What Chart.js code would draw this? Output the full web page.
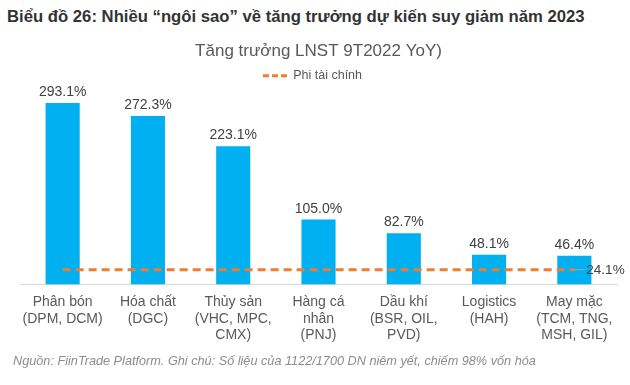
<!DOCTYPE html>
<html lang="vi">
<head>
<meta charset="UTF-8">
<title>Biểu đồ 26</title>
<script src="https://cdn.jsdelivr.net/npm/chart.js"></script>
<style>
  body {
    margin: 0;
    width: 630px;
    height: 385px;
    background: #ffffff;
    font-family: "Liberation Sans", Arial, sans-serif;
    position: relative;
    overflow: hidden;
  }
  .heading {
    position: absolute;
    left: 7px;
    top: 7px;
    font-size: 16.7px;
    font-weight: bold;
    color: #333333;
    white-space: nowrap;
  }
  .note {
    position: absolute;
    left: 13px;
    top: 354px;
    font-size: 12.7px;
    font-style: italic;
    color: #8c8c8c;
    white-space: nowrap;
  }
  .box {
    position: absolute;
    left: 0;
    top: 0;
    width: 630px;
    height: 385px;
  }
</style>
</head>
<body>
<div class="heading">Biểu đồ 26: Nhiều “ngôi sao” về tăng trưởng dự kiến suy giảm năm 2023</div>
<div class="box"><canvas id="chart" width="630" height="385"></canvas></div>
<div class="note">Nguồn: FiinTrade Platform. Ghi chú: Số liệu của 1122/1700 DN niêm yết, chiếm 98% vốn hóa</div>
<script>
  var categories = [
    ['Phân bón', '(DPM, DCM)'],
    ['Hóa chất', '(DGC)'],
    ['Thủy sản', '(VHC, MPC,', 'CMX)'],
    ['Hàng cá', 'nhân', '(PNJ)'],
    ['Dầu khí', '(BSR, OIL,', 'PVD)'],
    ['Logistics', '(HAH)'],
    ['May mặc', '(TCM, TNG,', 'MSH, GIL)']
  ];
  var growth = [293.1, 272.3, 223.1, 105.0, 82.7, 48.1, 46.4];
  var nonFinancial = [24.1, 24.1, 24.1, 24.1, 24.1, 24.1, 24.1];

  var FONT = '"Liberation Sans", Arial, sans-serif';

  // value labels above bars + label at the end of the dashed line
  var labelPlugin = {
    id: 'labels',
    afterLayout: function(chart) {
      // legend sits a bit left of centre in the original
      chart.legend.left -= 12;
    },
    afterDatasetsDraw: function(chart) {
      var ctx = chart.ctx;
      ctx.save();
      ctx.font = '14px ' + FONT;
      ctx.fillStyle = '#404040';
      ctx.textAlign = 'center';
      ctx.textBaseline = 'alphabetic';
      chart.getDatasetMeta(1).data.forEach(function(bar, i) {
        ctx.fillText(growth[i].toFixed(1) + '%', bar.x, bar.y - 7);
      });
      var pts = chart.getDatasetMeta(0).data;
      var last = pts[pts.length - 1];
      ctx.strokeStyle = '#a6a6a6';
      ctx.lineWidth = 1;
      ctx.beginPath();
      ctx.moveTo(last.x, last.y);
      ctx.lineTo(last.x + 11, last.y);
      ctx.stroke();
      ctx.font = '13.5px ' + FONT;
      ctx.textAlign = 'left';
      ctx.textBaseline = 'middle';
      ctx.fillText(nonFinancial[nonFinancial.length - 1].toFixed(1) + '%', last.x + 12, last.y + 1);
      ctx.restore();
    }
  };

  new Chart(document.getElementById('chart'), {
    type: 'bar',
    data: {
      labels: categories,
      datasets: [{
        type: 'line',
        label: 'Phi tài chính',
        data: nonFinancial,
        borderColor: '#ED7D31',
        backgroundColor: '#ED7D31',
        borderWidth: 3,
        borderDash: [8, 5],
        pointRadius: 0,
        fill: false,
        order: 0
      }, {
        label: 'Tăng trưởng',
        data: growth,
        backgroundColor: '#00B0F0',
        barPercentage: 0.4,
        categoryPercentage: 1,
        order: 1
      }]
    },
    options: {
      responsive: false,
      animation: false,
      devicePixelRatio: 1,
      layout: { padding: { left: 20, right: 13, top: 0, bottom: 32 } },
      scales: {
        x: {
          grid: { display: false, drawTicks: false },
          border: { color: '#D9D9D9', width: 1 },
          ticks: {
            color: '#595959',
            padding: 9,
            maxRotation: 0,
            autoSkip: false,
            font: { size: 14, family: FONT, lineHeight: 1.2 }
          }
        },
        y: {
          display: false,
          min: 0,
          max: 311
        }
      },
      plugins: {
        title: {
          display: true,
          text: 'Tăng trưởng LNST 9T2022 YoY)',
          color: '#595959',
          font: { size: 17, weight: 'normal', family: FONT },
          padding: { top: 41, bottom: 2 }
        },
        legend: {
          display: true,
          labels: {
            generateLabels: function(chart) {
              var items = Chart.defaults.plugins.legend.labels.generateLabels(chart);
              items = items.filter(function(item) { return item.text === 'Phi tài chính'; });
              items.forEach(function(item) {
                item.lineDash = [6, 3];
                item.lineWidth = 3;
                item.pointStyle = 'line';
              });
              return items;
            },
            usePointStyle: true,
            pointStyleWidth: 24,
            boxHeight: 12,
            color: '#595959',
            padding: 6,
            font: { size: 12.5, family: FONT }
          }
        },
        tooltip: { enabled: false }
      }
    },
    plugins: [labelPlugin]
  });
</script>
</body>
</html>
